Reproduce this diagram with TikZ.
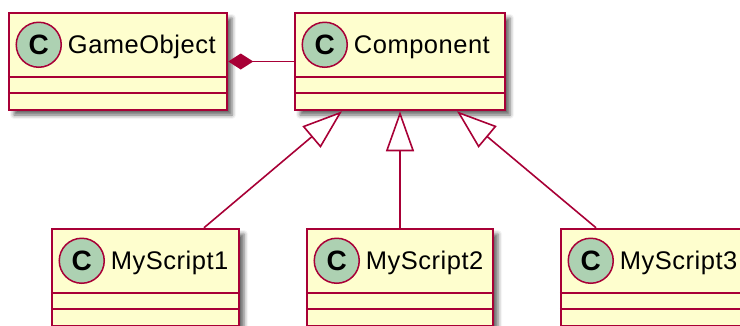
\documentclass[tikz,border=0pt]{standalone}
\usepackage{fontspec}
\setmainfont{Liberation Sans}
\newfontfamily\labelfont[LetterSpace=2]{Liberation Sans}
\usetikzlibrary{arrows.meta,shadows.blur,calc}

\definecolor{umlborder}{HTML}{A80036}
\definecolor{umlfill}{HTML}{FEFECE}
\definecolor{umlspot}{HTML}{ADD1B2}

\tikzset{
  classbox/.style={draw=umlborder, fill=umlfill, line width=2.5pt, inner sep=0pt,
    minimum height=97pt,
    blur shadow={shadow xshift=5pt, shadow yshift=-5pt, shadow blur radius=4pt, shadow opacity=60}},
  spot/.style={circle, draw=umlborder, fill=umlspot, line width=1.5pt, inner sep=0pt,
    minimum size=45pt, font=\fontsize{28}{28}\selectfont\bfseries},
  classname/.style={anchor=base west, inner sep=0pt, font=\labelfont\fontsize{25.5}{28}\selectfont},
  separator/.style={draw=umlborder, line width=2.2pt},
  compose/.style={{Diamond[length=25pt,width=16pt]}-, draw=umlborder, fill=umlborder, line width=1.6pt},
  inherit/.style={-{Triangle[length=40pt,width=28pt,fill=white]}, draw=umlborder, line width=1.6pt}
}

% one class: name, centre x, centre y, width, title
\newcommand\umlclass[5]{%
  \node[classbox, minimum width=#4pt] (#1) at (#2,#3) {};
  \draw[separator] ($(#1.north west)+(0,65)$) -- ($(#1.north east)+(0,65)$);
  \draw[separator] ($(#1.north west)+(0,81)$) -- ($(#1.north east)+(0,81)$);
  \node[spot] (#1-spot) at ($(#1.north west)+(31,33)$) {C};
  \node[classname] (#1-name) at ($(#1.north west)+(60,42)$) {#5};
}

\begin{document}
\begin{tikzpicture}[x=1pt, y=-1pt]
  \useasboundingbox (0,0) rectangle (740,325);

  \umlclass{go}{118}{61.5}{218}{GameObject}
  \umlclass{comp}{400}{61.5}{210}{Component}
  \umlclass{s1}{145.5}{277.5}{187}{MyScript1}
  \umlclass{s2}{400}{277.5}{186}{MyScript2}
  \umlclass{s3}{654}{277.5}{186}{MyScript3}

  % composition
  \draw[compose] (go.east) -- (comp.west);

  % generalizations
  \draw[inherit] ($(s1.north)+(58.5,0)$) -- ($(comp.south)+(-58,0)$);
  \draw[inherit] (s2.north) -- (comp.south);
  \draw[inherit] ($(s3.north)+(-58,0)$) -- ($(comp.south)+(57,0)$);
\end{tikzpicture}
\end{document}
